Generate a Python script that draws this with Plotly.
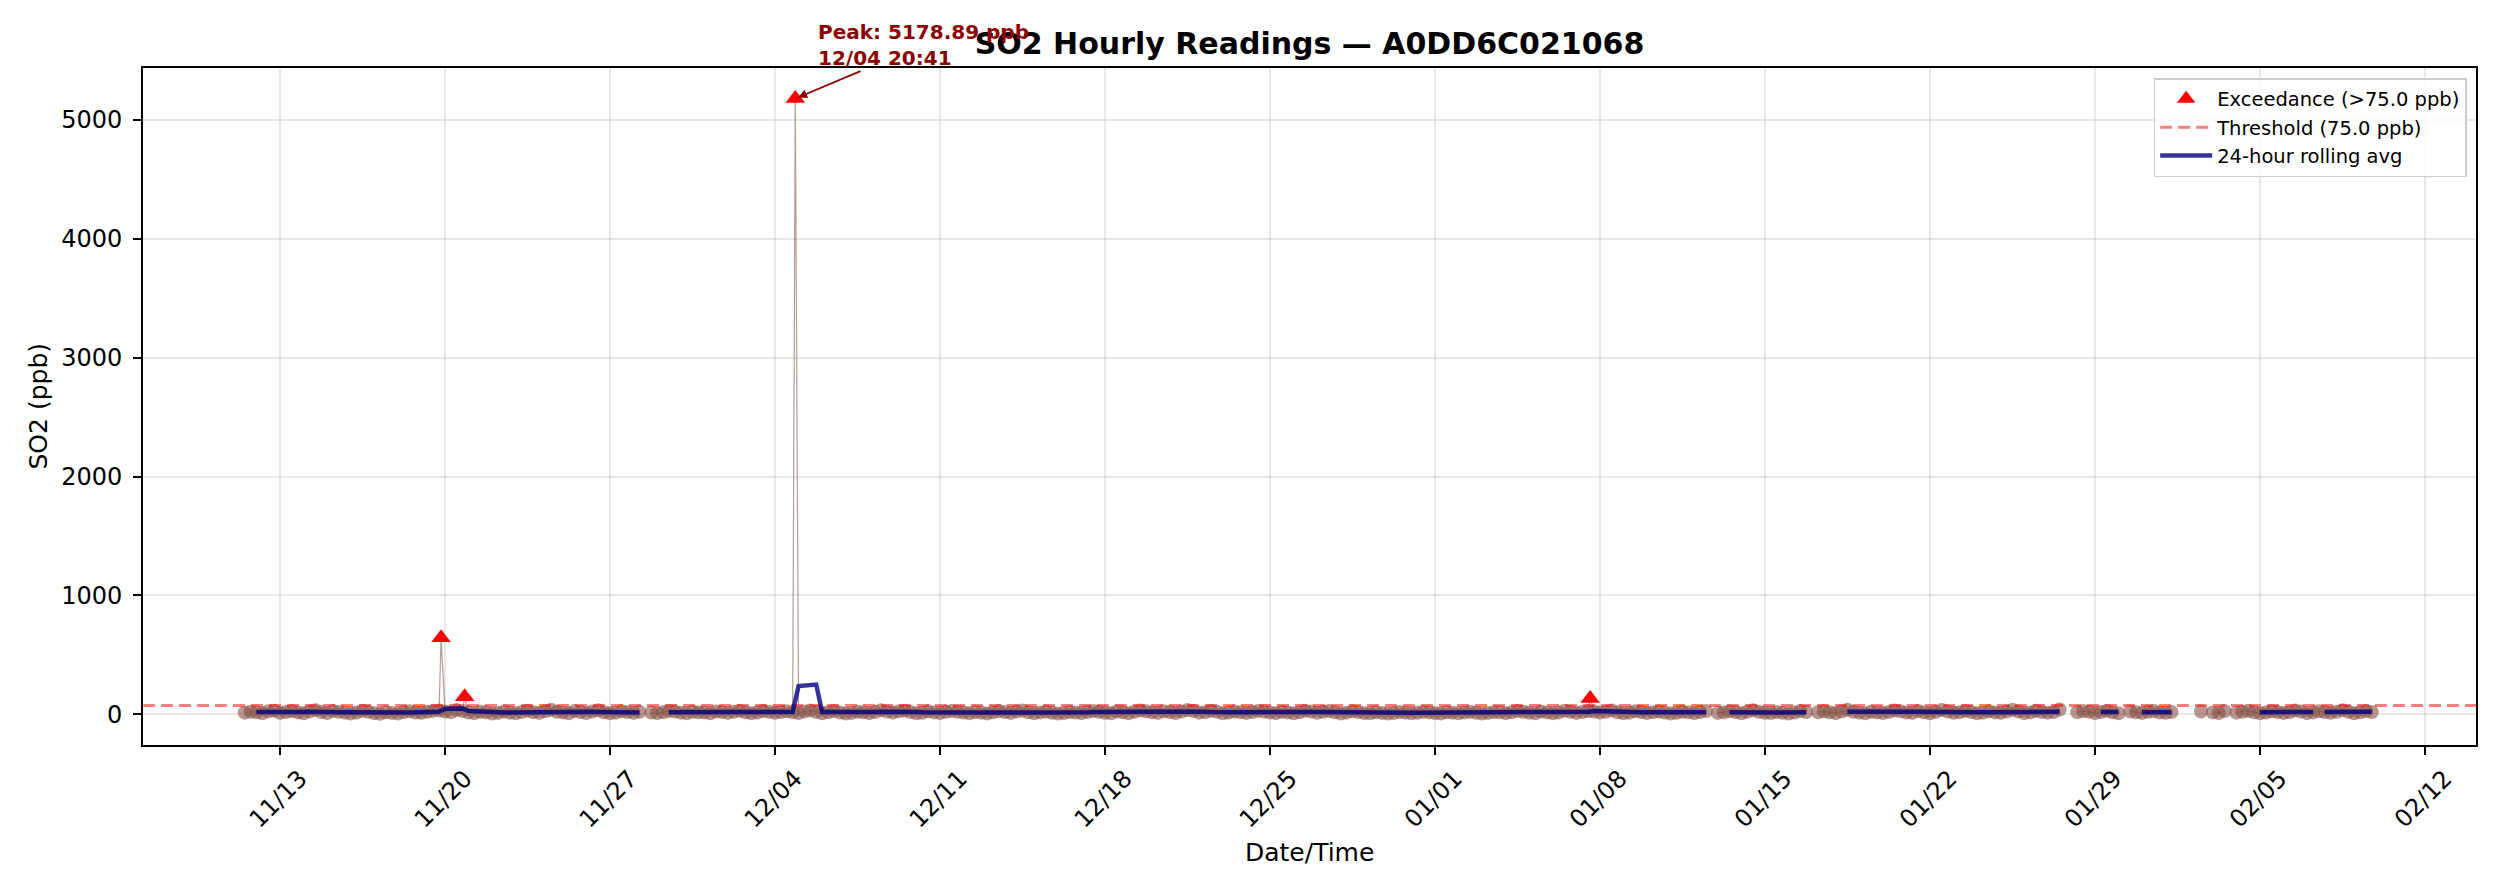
import numpy as np
import pandas as pd
import plotly.graph_objects as go

# SO2 readings (ppb) on a 6-hour grid; None = missing hour
# November starts 11/11 12:00, the other months at 00:00 on the 1st
nov_so2 = [14, 22,
           18, 9, 25, 31,  12, 20, 28, 16,  8, 24, 35, 19,  11, 27, 22, 14,
           6, 15, 30, 21,  10, 4, 18, 12,  7, 19, 26, 15,  13, 22, 29, 33,
           24, 18, 36, 27,  15, 10, 21, 17,  6, 12, 24, 14,  9, 20, 31, 18,
           12, 25, 38, 22,  16, 9, 27, 20,  11, 23, 34, 18,  8, 14, 26, 19,
           12, 21, None, 15,  10, 18, 29, 23,  14, 8, 22, 17]
dec_so2 = [16, 9, 24, 19,  12, 21, 30, 17,  8, 15, 27, 22,  13, 19, 25, 18,
           11, 24, 33, 20,  9, 17, 28, 15,  6, 12, 22, 18,  10, 20, 35, 24,
           14, 26, 31, 19,  8, 13, 25, 16,  11, 22, 29, 21,  15, 9, 19, 14,
           7, 18, 27, 20,  12, 24, 32, 17,  9, 16, 23, 13,  6, 11, 20, 15,
           10, 19, 28, 22,  13, 8, 24, 18,  9, 21, 33, 25,  16, 12, 26, 19,
           11, 23, 37, 27,  14, 18, 30, 21,  8, 15, 24, 17,  12, 20, 29, 23,
           15, 10, 22, 16,  9, 17, 31, 24,  13, 21, 27, 18,  7, 14, 25, 19,
           10, 8, 18, 12,  6, 11, 19, 14,  9, 13, 21, 16]
jan_so2 = [11, 7, 18, 14,  9, 15, 22, 13,  6, 12, 20, 17,  10, 18, 27, 21,
           14, 9, 23, 16,  8, 16, 30, 22,  12, 19, 28, 24,  15, 21, 33, 18,
           9, 14, 26, 20,  11, 17, 24, 15,  7, 13, 22, 18,  10, 20, 27, None,
           12, 16, 25, 19,  8, 22, 34, 21,  13, 11, 20, 14,  6, 15, 28, 19,
           None, 18, 26, 17,  10, 24, 39, 22,  14, 9, 21, 16,  11, 19, 32, 25,
           15, 12, 27, 18,  9, 21, 36, 23,  13, 17, 29, 20,  8, 14, 25, 16,
           12, 23, 38, 24,  10, 16, 31, 19,  14, 20, 41, None,  None, 17, 28, 21,
           11, 19, 30, 16,  9, None, 24, 18,  12, 21, 27, 15]
feb_so2 = [13, 20, None, None,  None, None, 24, None,  16, 11, 27, None,
           14, 22, 30, 18,  9, 15, 26, 20,  12, 18, 33, 24,  10, 16, 25, 19,
           13, 21, 35, 22,  8, 17, 28, 20]

# 24-hour rolling average (ppb) on the same grid
nov_avg = [None, None,
           20, 19, 20, 21,  20, 21, 20, 19,  20, 21, 22, 21,  20, 19, 18, 17,
           16, 15, 16, 17,  14, 12, 11, 11,  13, 15, 16, 17,  18, 19, 20, 21,
           46, 47, 47, 48,  27, 24, 20, 18,  16, 15, 15, 16,  17, 17, 18, 19,
           20, 22, 23, 24,  22, 20, 18, 19,  20, 21, 20, 19,  17, 16, 17, 18,
           17, 16, None, None,  None, None, 18, 19,  18, 17, 17, 16]
dec_avg = [17, 17, 18, 18,  19, 20, 20, 20,  19, 18, 18, 19,  19, 19, 20, 20,
           238, 241, 245, 250,  20, 19, 19, 18,  16, 15, 14, 15,  17, 19, 21, 22,
           22, 22, 21, 20,  19, 17, 16, 16,  18, 19, 20, 19,  17, 16, 15, 15,
           16, 17, 18, 19,  20, 20, 21, 20,  18, 16, 15, 14,  13, 13, 14, 15,
           16, 17, 19, 20,  19, 18, 18, 19,  20, 22, 23, 24,  23, 22, 21, 22,
           23, 24, 26, 25,  24, 22, 20, 18,  17, 16, 16, 17,  18, 19, 20, 21,
           20, 19, 18, 18,  19, 20, 21, 21,  20, 20, 19, 18,  17, 16, 16, 15,
           14, 13, 12, 12,  12, 12, 13, 13,  13, 14, 14, 15]
jan_avg = [15, 14, 13, 13,  13, 14, 15, 15,  14, 13, 13, 14,  15, 16, 17, 18,
           18, 17, 16, 16,  17, 18, 19, 20,  20, 21, 22, 27,  27, 27, 26, 21,
           20, 19, 18, 18,  17, 17, 16, 16,  15, 15, 16, 16,  17, 17, 17, None,
           None, None, 18, 19,  19, 20, 21, 20,  18, 17, 16, 16,  16, 17, 17, 17,
           None, None, None, None,  None, None, 21, 22,  20, 19, 18, 18,  19, 20, 21, 22,
           21, 20, 20, 20,  21, 22, 23, 22,  21, 20, 20, 19,  18, 17, 17, 18,
           19, 21, 22, 23,  22, 21, 20, 20,  20, 21, 22, None,  None, None, None, None,
           None, 20, 21, 21,  20, None, None, None,  18, 19, 20, 19]
feb_avg = [19, 18, None, None,  None, None, None, None,  None, None, None, None,
           None, None, None, None,  18, 19, 20, 20,  21, 20, 21, 22,  21, 20, None, 20,
           20, 21, 22, 22,  21, 20, 20, 21]

# readings above the threshold
exceed_times = ["2024-11-19 20:00", "2024-11-20 20:00", "2024-12-04 20:41", "2025-01-07 14:00"]
exceed_vals = [643.0, 147.0, 5178.89, 134.0]

THRESHOLD = 75.0
X_RANGE = ["2024-11-07 04:30", "2025-02-14 04:00"]
Y_RANGE = [-258, 5436]
tick_dates = pd.date_range("2024-11-13", "2025-02-12", freq="7D")

grid = pd.date_range("2024-11-11 12:00", "2025-02-09 18:00", freq="6h")
so2 = pd.Series(nov_so2 + dec_so2 + jan_so2 + feb_so2, index=grid, dtype=float)
avg = pd.Series(nov_avg + dec_avg + jan_avg + feb_avg, index=grid, dtype=float)
exceed = pd.Series(exceed_vals, index=pd.to_datetime(exceed_times))
readings = pd.concat([so2, exceed]).sort_index()


def nulls(s):
    return [None if np.isnan(v) else float(v) for v in s.values]


FONT = "DejaVu Sans"
fig = go.Figure()

# hourly readings (markers only where the value is below the threshold,
# the exceedances get their own triangles on top)
marker_sizes = [14 if v <= THRESHOLD else 0 for v in readings.fillna(0).values]
fig.add_trace(go.Scatter(
    x=readings.index, y=nulls(readings), mode="lines+markers",
    line=dict(color="rgba(140,86,75,0.6)", width=1.2),
    marker=dict(color="rgba(135,80,68,0.85)", size=marker_sizes, line=dict(width=0)),
    showlegend=False, hoverinfo="skip"))

# exceedances
fig.add_trace(go.Scatter(
    x=exceed.index, y=exceed.values, mode="markers",
    marker=dict(symbol="triangle-up", color="red", size=17, line=dict(width=0)),
    name=f"Exceedance (>{THRESHOLD} ppb)"))

# threshold line
fig.add_trace(go.Scatter(
    x=X_RANGE, y=[THRESHOLD, THRESHOLD], mode="lines",
    line=dict(color="rgba(255,0,0,0.5)", width=3, dash="12px,6px"),
    name=f"Threshold ({THRESHOLD} ppb)"))

# rolling average
fig.add_trace(go.Scatter(
    x=avg.index, y=nulls(avg), mode="lines",
    line=dict(color="rgba(0,0,128,0.8)", width=4.5),
    name="24-hour rolling avg"))

peak_t = exceed.idxmax()
fig.add_annotation(
    x=peak_t, y=exceed.max(),
    text=f"<b>Peak: {exceed.max():.2f} ppb<br>{peak_t:%m/%d %H:%M}</b>",
    showarrow=True, ax=128, ay=-54, align="left",
    font=dict(family=FONT, size=20, color="#8b0000"),
    arrowcolor="#8b0000", arrowwidth=1.8, arrowhead=2, arrowsize=1, standoff=3)

fig.add_annotation(text="Date/Time", xref="paper", yref="paper", x=0.5, y=-0.1595,
                   yanchor="middle", showarrow=False,
                   font=dict(family=FONT, size=25, color="black"))
fig.add_annotation(text="SO2 (ppb)", xref="paper", yref="paper", x=-0.045, y=0.5,
                   xanchor="center", textangle=-90, showarrow=False,
                   font=dict(family=FONT, size=25, color="black"))

axis_common = dict(
    showline=True, linecolor="black", linewidth=1.8, mirror=True,
    ticks="outside", ticklen=8, tickwidth=1.8, tickcolor="black",
    showgrid=True, gridcolor="rgba(176,176,176,0.3)", gridwidth=1.5,
    zeroline=False, tickfont=dict(family=FONT, size=24, color="black"))

# the page adds an 8 px body margin, so the figure is sized to fit inside it
fig.update_layout(
    width=2484, height=877,
    margin=dict(l=135, r=16, t=60, b=140),
    paper_bgcolor="white", plot_bgcolor="white",
    font=dict(family=FONT, color="black"),
    title=dict(text="<b>SO2 Hourly Readings — A0DD6C021068</b>", x=0.5, xref="paper",
               y=1 - 35 / 877, yref="container", yanchor="middle", xanchor="center",
               font=dict(family=FONT, size=30, color="black")),
    xaxis=dict(range=X_RANGE, tickvals=tick_dates, tickformat="%m/%d", tickangle=-45,
               ticklabelshift=20, ticklabelstandoff=0, **axis_common),
    yaxis=dict(range=Y_RANGE, tickvals=[0, 1000, 2000, 3000, 4000, 5000],
               ticklabelstandoff=6, **axis_common),
    legend=dict(x=0.996, y=0.985, xanchor="right", yanchor="top",
                bgcolor="rgba(255,255,255,0.8)", bordercolor="#cccccc", borderwidth=1.5,
                font=dict(family=FONT, size=19.5, color="black"), tracegroupgap=0,
                itemwidth=52),
    showlegend=True,
)

fig.write_html("out.html")
